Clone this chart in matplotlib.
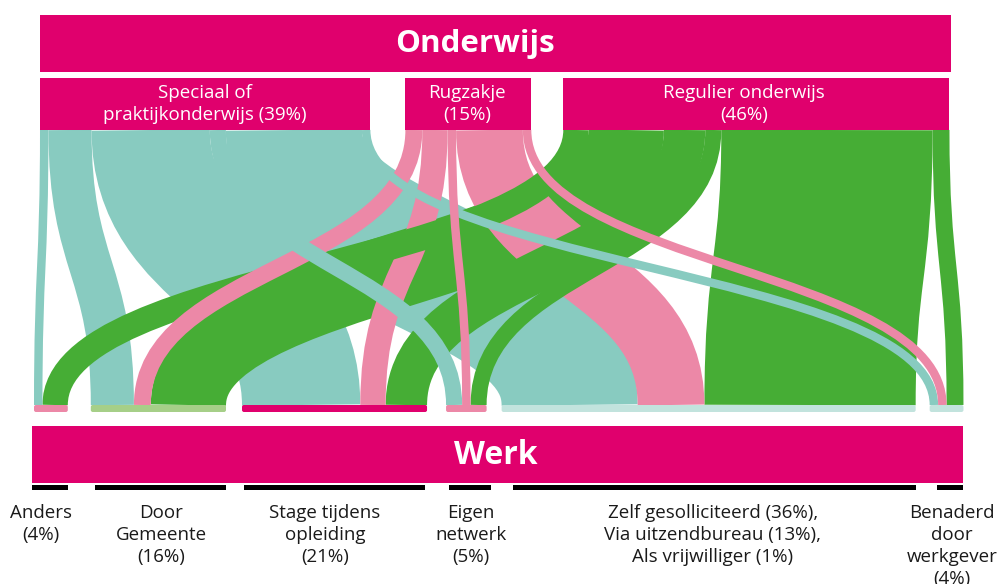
import matplotlib
matplotlib.use('Agg')
import matplotlib.pyplot as plt
from matplotlib.path import Path
from matplotlib.patches import PathPatch, Rectangle, FancyBboxPatch

# ---------------- data ----------------
source_labels = ['Speciaal of\npraktijkonderwijs (39%)', 'Rugzakje\n(15%)', 'Regulier onderwijs\n(46%)']
target_labels = ['Anders\n(4%)', 'Door\nGemeente\n(16%)', 'Stage tijdens\nopleiding\n(21%)',
                 'Eigen\nnetwerk\n(5%)',
                 'Zelf gesolliciteerd (36%),\nVia uitzendbureau (13%),\nAls vrijwilliger (1%)',
                 'Benaderd\ndoor\nwerkgever\n(4%)']
# flows (% of total) from each source to targets in target order
speciaal = [1.0, 5.1, 14.0, 1.9, 16.1, 1.0]
rugzakje = [0.0, 2.0, 3.0, 1.0, 7.9, 1.0]
regulier = [3.0, 8.9, 4.9, 1.9, 25.0, 2.0]
flows = [speciaal, rugzakje, regulier]

# ---------------- style / layout ----------------
TEAL = '#88CBC0'
PINK = '#EC88A7'
GREEN = '#46AD35'
MAGENTA = '#E0006D'
source_colors = [TEAL, PINK, GREEN]
target_colors = [PINK, '#A6CF88', MAGENTA, PINK, '#C2E3DD', '#C2E3DD']

SCALE = 8.45            # px per percent
TOP_X0 = 40
TOP_GAPS = [35, 32]
BOT_X0 = 34
BOT_GAPS = [23, 16, 19, 15, 14]
Y_TOP = 130
Y_BOT = 405

fig = plt.figure(figsize=(10, 5.84), dpi=100)
ax = fig.add_axes([0, 0, 1, 1])
ax.set_xlim(0, 1000)
ax.set_ylim(584, 0)
ax.axis('off')

FONT = 'Open Sans'

# node extents
src_tot = [sum(f) for f in flows]
tgt_tot = [sum(flows[s][t] for s in range(3)) for t in range(6)]

src_x = []
x = TOP_X0
for i, v in enumerate(src_tot):
    src_x.append(x)
    x += v * SCALE
    if i < len(TOP_GAPS):
        x += TOP_GAPS[i]
tgt_x = []
x = BOT_X0
for i, v in enumerate(tgt_tot):
    tgt_x.append(x)
    x += v * SCALE
    if i < len(BOT_GAPS):
        x += BOT_GAPS[i]

# link positions
links = []
src_off = list(src_x)
tgt_off = list(tgt_x)
for s in range(3):
    for t in range(6):
        v = flows[s][t]
        if v <= 0:
            continue
        w = v * SCALE
        xs = src_off[s] + w / 2
        src_off[s] += w
        links.append([s, t, v, xs, w])
for t in range(6):
    for s in range(3):
        for L in links:
            if L[0] == s and L[1] == t:
                w = L[4]
                L.append(tgt_off[t] + w / 2)
                tgt_off[t] += w

ym = (Y_TOP + Y_BOT) / 2
for s, t, v, xs, w, xt in sorted(links, key=lambda L: -L[2]):
    path = Path([(xs, Y_TOP), (xs, ym), (xt, ym), (xt, Y_BOT)],
                [Path.MOVETO, Path.CURVE4, Path.CURVE4, Path.CURVE4])
    ax.add_patch(PathPatch(path, facecolor='none', edgecolor=source_colors[s],
                           lw=w * 0.72, capstyle='butt', zorder=2))

# top boxes
ax.add_patch(Rectangle((40, 15), 911, 57, color=MAGENTA, lw=0, zorder=3))
ax.text(475, 44, 'Onderwijs', color='white', fontsize=22.5, fontweight='bold',
        ha='center', va='center', family=FONT, zorder=4)
label_cx = [205, 467, 744]
for i in range(3):
    ax.add_patch(Rectangle((src_x[i], 78), src_tot[i] * SCALE, 52, color=MAGENTA, lw=0, zorder=3))
    ax.text(label_cx[i], 104, source_labels[i], color='white', fontsize=13.5,
            ha='center', va='center', family=FONT, linespacing=1.3, zorder=4)

# target bars
for t in range(6):
    ax.add_patch(FancyBboxPatch((tgt_x[t], Y_BOT), tgt_tot[t] * SCALE, 7,
                                boxstyle='round,pad=0,rounding_size=2',
                                fc=target_colors[t], ec='none', zorder=3))

ax.add_patch(Rectangle((32, 426), 931, 57, color=MAGENTA, lw=0, zorder=3))
ax.text(496, 455, 'Werk', color='white', fontsize=23, fontweight='bold',
        ha='center', va='center', family=FONT, zorder=4)

under_bars = [(32, 68), (95, 226), (244, 425), (449, 491), (513, 916), (937, 963)]
label_x = [41, 161, 325, 471, 713, 952]
for (a, b), lx, lab in zip(under_bars, label_x, target_labels):
    ax.add_patch(Rectangle((a, 485), b - a, 5, color='black', lw=0, zorder=3))
    ax.text(lx, 504, lab, color='#1a1a1a', fontsize=13.5, ha='center', va='top',
            family=FONT, linespacing=1.28, zorder=4)

fig.savefig('out.png', dpi=100)
